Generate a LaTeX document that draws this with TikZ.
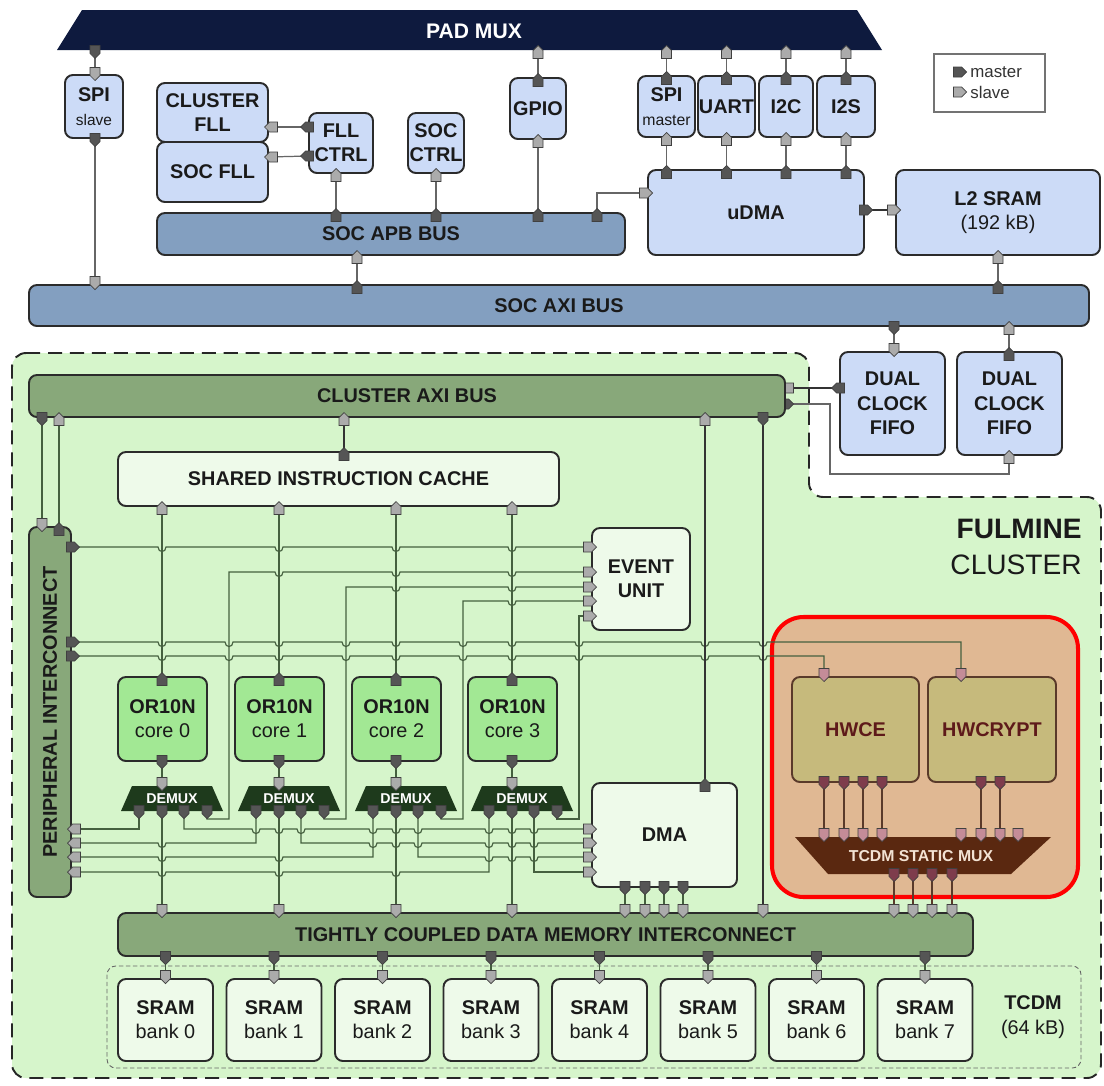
\documentclass[tikz,border=0pt]{standalone}
\usepackage{fontspec}
\setmainfont{Liberation Sans}
\usetikzlibrary{calc}
\definecolor{cNavy}{HTML}{0E1A3E}
\definecolor{cSocBox}{HTML}{CCDBF7}
\definecolor{cSocBus}{HTML}{839FC0}
\definecolor{cClBg}{HTML}{D6F5CB}
\definecolor{cClBus}{HTML}{88A87A}
\definecolor{cPale}{HTML}{EEFAEA}
\definecolor{cCore}{HTML}{A2E894}
\definecolor{cDemux}{HTML}{1E3A1C}
\definecolor{cHwBg}{HTML}{E0B893}
\definecolor{cHwBox}{HTML}{C6BA7C}
\definecolor{cHwEdge}{HTML}{5A3A2A}
\definecolor{cHwText}{HTML}{5E1A1A}
\definecolor{cTMux}{HTML}{5A2810}
\definecolor{cMst}{HTML}{555555}
\definecolor{cSlv}{HTML}{ABABAB}
\definecolor{cHwM}{HTML}{7E3C4C}
\definecolor{cHwS}{HTML}{C48C98}
\definecolor{cWire}{HTML}{45603F}
\definecolor{cTop}{HTML}{666666}
\definecolor{cEdge}{HTML}{2B2B2B}
\definecolor{cTxt}{HTML}{1A1A1A}
\newcommand\lbl{\bfseries\fontsize{11.3}{13.8}\selectfont}
\newcommand\mybox[7]{\node[#1, minimum width={((#5)-(#3))*0.02cm}, minimum height={((#6)-(#4))*0.02cm}] (#2) at ({((#3)+(#5))/2},{((#4)+(#6))/2}) {#7};}
\newcommand\pD[3]{\filldraw[prt,fill=#3] ({#1-5},{#2-6.5}) -- ({#1+5},{#2-6.5}) -- ({#1+5},{#2+1.5}) -- ({#1},{#2+6.5}) -- ({#1-5},{#2+1.5}) -- cycle;}
\newcommand\pU[3]{\filldraw[prt,fill=#3] ({#1-5},{#2+6.5}) -- ({#1+5},{#2+6.5}) -- ({#1+5},{#2-1.5}) -- ({#1},{#2-6.5}) -- ({#1-5},{#2-1.5}) -- cycle;}
\newcommand\pR[3]{\filldraw[prt,fill=#3] ({#1-6.5},{#2-5}) -- ({#1+1.5},{#2-5}) -- ({#1+6.5},{#2}) -- ({#1+1.5},{#2+5}) -- ({#1-6.5},{#2+5}) -- cycle;}
\newcommand\pL[3]{\filldraw[prt,fill=#3] ({#1+6.5},{#2-5}) -- ({#1-1.5},{#2-5}) -- ({#1-6.5},{#2}) -- ({#1-1.5},{#2+5}) -- ({#1+6.5},{#2+5}) -- cycle;}
\newcommand\hwire[4]{\draw[cw] #1 \foreach \h in {#3} {-- ({\h-4},{#2}) .. controls ({\h-4},{#2+6}) and ({\h+4},{#2+6}) .. ({\h+4},{#2})} -- #4;}
\begin{document}
\begin{tikzpicture}[x=0.02cm,y=-0.02cm,
  box/.style={draw=cEdge, line width=1.1pt, rounded corners=4.5pt, inner sep=0pt, outer sep=0pt, align=center, font=\lbl, text=cTxt},
  socb/.style={box, fill=cSocBox},
  socbar/.style={box, fill=cSocBus},
  clbar/.style={box, fill=cClBus},
  palebox/.style={box, fill=cPale},
  corebox/.style={box, fill=cCore},
  hwb/.style={box, fill=cHwBox, draw=cHwEdge, text=cHwText},
  legbox/.style={draw=black!55, line width=0.6pt, fill=white, inner sep=0pt},
  prt/.style={draw=black!75, line width=0.4pt},
  tw/.style={draw=cTop, line width=0.7pt},
  cw/.style={draw=cWire, line width=0.65pt},
  cwt/.style={draw=black!80, line width=1.1pt},
  hww/.style={draw=cHwEdge, line width=0.65pt},
  dmxt/.style={font=\bfseries\fontsize{8.1}{9}\selectfont, text=white, inner sep=0pt}]
\fill[white] (0,0) rectangle (1104,1085);
\useasboundingbox (0,0) rectangle (1104,1085);

% cluster region
\filldraw[fill=cClBg, draw=black!85, line width=1.1pt, dash pattern=on 8pt off 4.5pt, rounded corners=8pt]
  (12,353) -- (809,353) -- (809,497) -- (1101,497) -- (1101,1078) -- (12,1078) -- cycle;

% PAD MUX
\fill[cNavy] (82,10) -- (857,10) -- (882,50) -- (57,50) -- cycle;
\node[font=\bfseries\fontsize{12}{14}\selectfont, text=white] (padmux) at (474,31) {PAD MUX};

% legend
\mybox{legbox}{legend}{934}{54}{1045}{112}{}
\node[anchor=west, font=\fontsize{9.6}{11}\selectfont, text=black!80, inner sep=0pt] (lgm) at (970,72) {master};
\node[anchor=west, font=\fontsize{9.6}{11}\selectfont, text=black!80, inner sep=0pt] (lgs) at (970,92) {slave};
\pR{960}{72}{cMst}
\pR{960}{92}{cSlv}

% ---------- top wires
\draw[tw] (95,50) -- (95,75);
\draw[tw] (95,138) -- (95,285);
\draw[tw] (268,127) -- (309,127);
\draw[tw] (268,157) -- (309,156);
\draw[tw] (336,173) -- (336,213);
\draw[tw] (436,173) -- (436,213);
\draw[tw] (538,50) -- (538,78);
\draw[tw] (538,139) -- (538,213);
\draw[tw] (597,213) -- (597,193) -- (648,193);
\draw[tw] (357,255) -- (357,285);
\foreach \x in {666.5,726.5,786,846} {\draw[tw] (\x,50) -- (\x,76); \draw[tw] (\x,137) -- (\x,170);}
\draw[draw=black!80, line width=1pt] (864,210) -- (896,210);
\draw[tw] (998,255) -- (998,285);
\draw[tw] (894,326) -- (894,352);
\draw[tw] (1009,326) -- (1009,352);
\draw[draw=black!80, line width=1pt] (785,388) -- (840,388);
\draw[tw] (785,404) -- (830,404) -- (830,474) -- (1009,474) -- (1009,455);

% ---------- top boxes
\mybox{socb}{spis}{65}{75}{123}{138}{SPI\\{\mdseries\fontsize{8.8}{10}\selectfont slave}}
\mybox{socb}{clfll}{157}{83}{268}{142}{CLUSTER\\FLL}
\mybox{socb}{socfll}{157}{142}{268}{202}{SOC FLL}
\mybox{socb}{fllctrl}{309}{113}{373}{173}{FLL\\CTRL}
\mybox{socb}{socctrl}{408}{113}{464}{173}{SOC\\CTRL}
\mybox{socb}{gpio}{510}{78}{566}{139}{GPIO}
\mybox{socb}{spim}{638}{76}{695}{137}{SPI\\{\mdseries\fontsize{9}{10}\selectfont master}}
\mybox{socb}{uart}{698}{76}{755}{137}{UART}
\mybox{socb}{i2c}{759}{76}{813}{137}{I2C}
\mybox{socb}{i2s}{817}{76}{875}{137}{I2S}
\mybox{socbar}{apb}{157}{213}{625}{255}{SOC APB BUS}
\mybox{socb}{udma}{648}{170}{864}{255}{uDMA}
\mybox{socb}{l2}{896}{170}{1100}{255}{L2 SRAM\\{\mdseries (192 kB)}}
\mybox{socbar}{axi}{29}{285}{1089}{326}{SOC AXI BUS}
\mybox{socb}{fifo1}{840}{352}{945}{455}{DUAL\\CLOCK\\FIFO}
\mybox{socb}{fifo2}{957}{352}{1062}{455}{DUAL\\CLOCK\\FIFO}

% ---------- top ports
\pD{95}{52}{cMst} \pD{95}{74}{cSlv}
\pD{95}{140}{cMst} \pD{95}{283}{cSlv}
\pL{307}{127}{cMst} \pL{271}{127}{cSlv}
\pL{307}{156}{cMst} \pL{271}{157}{cSlv}
\pU{336}{215}{cMst} \pU{336}{175}{cSlv}
\pU{436}{215}{cMst} \pU{436}{175}{cSlv}
\pU{538}{215}{cMst} \pU{538}{141}{cSlv}
\pU{538}{80}{cMst} \pU{538}{52}{cSlv}
\pU{597}{215}{cMst} \pR{646}{193}{cSlv}
\pU{357}{287}{cMst} \pU{357}{257}{cSlv}
\foreach \x in {666.5,726.5,786,846} {\pU{\x}{172}{cMst} \pU{\x}{139}{cSlv} \pU{\x}{78}{cMst} \pU{\x}{52}{cSlv}}
\pR{866}{210}{cMst} \pR{894}{210}{cSlv}
\pU{998}{287}{cMst} \pU{998}{257}{cSlv}
\pD{894}{328}{cMst} \pD{894}{350}{cSlv}
\pU{1009}{354}{cMst} \pU{1009}{328}{cSlv}
\pL{838}{388}{cMst} \pL{787}{388}{cSlv}
\pR{787}{404}{cMst} \pU{1009}{457}{cSlv}

% ---------- accelerator region
\filldraw[fill=cHwBg, draw=red, line width=2.3pt, rounded corners=18pt] (772,617) rectangle (1078,897);
\node[anchor=east, align=right, font=\fontsize{16}{20.4}\selectfont, text=cTxt, inner sep=0pt] (fulmine) at (1082,547) {{\bfseries FULMINE}\\CLUSTER};

% TCDM dashed group
\draw[draw=black!60, line width=0.5pt, dash pattern=on 2.5pt off 1.5pt, rounded corners=5pt] (107,966) rectangle (1081,1068);
\node[align=center, font=\lbl, text=cTxt] (tcdmlbl) at (1033,1017) {TCDM\\{\mdseries (64 kB)}};

% ---------- cluster wires
\draw[cw] (42,417) -- (42,527);
\draw[cw] (59,417) -- (59,527);
\draw[cwt] (344,417) -- (344,452);
\foreach \c in {162,279,396,512} {\draw[cw] (\c,506) -- (\c,677); \draw[cw] (\c,761) -- (\c,786); \draw[cw] (\c,811) -- (\c,913);}
\hwire{(73,547)}{547}{162,279,396,512}{(592,547)}
\hwire{(73,642)}{642}{162,229,279,346,396,463,512,579,705,763}{(961,642) -- (961,677)}
\hwire{(73,656)}{656}{162,229,279,346,396,463,512,579,705,763}{(824,656) -- (824,677)}
% event unit feeds
\hwire{(207,811) -- (207,819) -- (229,819) -- (229,572)}{572}{279,396,512}{(592,572)}
\hwire{(324,811) -- (324,819) -- (346,819) -- (346,587)}{587}{396,512}{(592,587)}
\hwire{(441,811) -- (441,819) -- (463,819) -- (463,601)}{601}{512}{(592,601)}
\draw[cw] (557,811) -- (557,819) -- (579,819) -- (579,616) -- (592,616);
% peripheral rows
\draw[cw] (73,829) -- (139,829) -- (139,811);
\hwire{(73,843)}{843}{162}{(256,843) -- (256,811)}
\hwire{(73,857)}{857}{162,279}{(373,857) -- (373,811)}
\hwire{(73,872)}{872}{162,279,396}{(489,872) -- (489,811)}
% DMA rows
\hwire{(184,811) -- (184,829)}{829}{256,279,301,373,396,418,489,512,534}{(592,829)}
\hwire{(301,811) -- (301,843)}{843}{373,396,418,489,512,534}{(592,843)}
\hwire{(418,811) -- (418,857)}{857}{489,512,534}{(592,857)}
\draw[cw] (534,811) -- (534,872) -- (592,872);
% DMA / AXI
\draw[cwt] (705,417) -- (705,783);
\draw[cwt] (763,417) -- (763,913);
\foreach \x in {625,645,664,683} {\draw[cw] (\x,887) -- (\x,913);}
% accelerators
\foreach \x in {824,844,863,882,981,1000} {\draw[hww] (\x,782) -- (\x,837);}
\foreach \x in {894,913,932,952} {\draw[hww] (\x,874) -- (\x,913);}
\foreach \i in {0,...,7} {\draw[cw] ({165.5+108.5*\i},956) -- ({165.5+108.5*\i},979);}

% ---------- cluster boxes
\mybox{clbar}{caxi}{29}{375}{785}{417}{CLUSTER AXI BUS}
\mybox{palebox}{sic}{118}{452}{559}{506}{SHARED INSTRUCTION CACHE}
\mybox{palebox}{eu}{592}{528}{690}{630}{EVENT\\UNIT}
\node[clbar, rotate=90, minimum width={370*0.02cm}, minimum height={42*0.02cm}] (pi) at (50,712) {PERIPHERAL INTERCONNECT};
\foreach \i/\c in {0/162,1/279,2/396,3/512} {
  \mybox{corebox}{core\i}{\c-44}{677}{\c+45}{761}{OR10N\\{\mdseries core \i}}
  \fill[cDemux] ({\c-30},786) -- ({\c+50},786) -- ({\c+61},811) -- ({\c-41},811) -- cycle;
  \node[dmxt] (dmx\i) at ({\c+10},798.5) {DEMUX};
}
\mybox{palebox}{dma}{592}{783}{737}{887}{DMA}
\mybox{hwb}{hwce}{792}{677}{919}{782}{HWCE}
\mybox{hwb}{hwcrypt}{928}{677}{1056}{782}{HWCRYPT}
\fill[cTMux] (795,837) -- (1051,837) -- (1011,874) -- (828,874) -- cycle;
\node[font=\bfseries\fontsize{9}{10}\selectfont, text=cHwBg!40!white, inner sep=0pt] (tmux) at (921,856) {TCDM STATIC MUX};
\mybox{clbar}{tcdm}{118}{913}{973}{956}{TIGHTLY COUPLED DATA MEMORY INTERCONNECT}
\foreach \i in {0,...,7} {\mybox{palebox}{bank\i}{118+108.5*\i}{979}{213+108.5*\i}{1061}{SRAM\\{\mdseries bank \i}}}

% ---------- cluster ports
\pD{42}{419}{cMst} \pD{42}{525}{cSlv}
\pU{59}{529}{cMst} \pU{59}{419}{cSlv}
\pU{344}{454}{cMst} \pU{344}{419}{cSlv}
\foreach \c in {162,279,396,512} {
  \pU{\c}{679}{cMst} \pU{\c}{508}{cSlv}
  \pD{\c}{762}{cMst} \pD{\c}{784}{cSlv}
  \pD{\c-23}{812}{cMst} \pD{\c}{812}{cMst} \pD{\c+22}{812}{cMst} \pD{\c+45}{812}{cMst}
}
\pR{73}{547}{cMst} \pR{73}{642}{cMst} \pR{73}{656}{cMst}
\foreach \y in {547,572,587,601,616} {\pR{590}{\y}{cSlv}}
\foreach \y in {829,843,857,872} {\pL{74}{\y}{cSlv} \pR{590}{\y}{cSlv}}
\pU{705}{785}{cMst} \pU{705}{419}{cSlv}
\pD{763}{419}{cMst}
\foreach \x in {625,645,664,683} {\pD{\x}{888}{cMst}}
\foreach \x in {162,279,396,512,625,645,664,683,763,894,913,932,952} {\pD{\x}{911}{cSlv}}
\pD{824}{675}{cHwS} \pD{961}{675}{cHwS}
\foreach \x in {824,844,863,882,981,1000} {\pD{\x}{783}{cHwM}}
\foreach \x in {824,844,863,882,961,981,1000,1018} {\pD{\x}{835}{cHwS}}
\foreach \x in {894,913,932,952} {\pD{\x}{875}{cHwM}}
\foreach \i in {0,...,7} {\pD{165.5+108.5*\i}{958}{cMst} \pD{165.5+108.5*\i}{977}{cSlv}}
\end{tikzpicture}
\end{document}
